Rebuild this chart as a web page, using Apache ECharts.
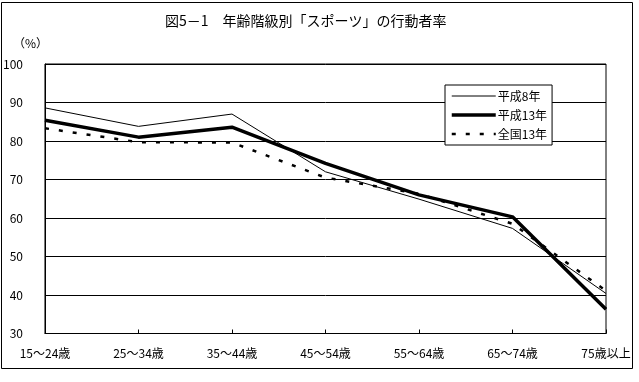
<!DOCTYPE html>
<html><head><meta charset="utf-8">
<script src="https://cdn.jsdelivr.net/npm/echarts@6/dist/echarts.min.js"></script>
<style>html,body{margin:0;padding:0;background:#fff}#c{width:639px;height:382px}</style>
</head><body><div id="c"></div>
<script>
const categories = ['15～24歳','25～34歳','35～44歳','45～54歳','55～64歳','65～74歳','75歳以上'];
const h8 = [88.6, 83.8, 87.0, 72.0, 64.9, 57.3, 40.4];
const h13 = [85.4, 81.0, 83.6, 74.2, 66.0, 60.3, 36.3];
const zenkoku13 = [83.3, 79.7, 79.6, 70.5, 66.3, 58.5, 41.1];
const seriesNames = ['平成8年','平成13年','全国13年'];
const yTicks = {min: 30, max: 100, interval: 10};

const FONT = '"Noto Sans CJK JP", sans-serif';
const styles = [
  {color: '#000', width: 1, type: 'solid'},
  {color: '#000', width: 3.5, type: 'solid'},
  {color: '#000', width: 2.5, type: [4, 10]}
];
const chart = echarts.init(document.getElementById('c'), null, {renderer: 'canvas'});
chart.setOption({
  animation: false,
  backgroundColor: '#fff',
  textStyle: {fontFamily: FONT, color: '#000'},
  title: {
    text: '図5－1　年齢階級別「スポーツ」の行動者率',
    left: 160, top: 9,
    textStyle: {fontFamily: FONT, fontSize: 14, fontWeight: 'normal', color: '#000'}
  },
  graphic: [
    {type: 'rect', shape: {x: 1.5, y: 2.5, width: 631, height: 366}, style: {fill: 'none', stroke: '#000', lineWidth: 1}, z: 100},
    {type: 'text', left: 13, top: 37, style: {text: '（%）', font: '12px ' + FONT, fill: '#000'}}
  ],
  grid: {left: 44, right: 33, top: 64, bottom: 48.5, show: true, borderColor: '#000', borderWidth: 1, backgroundColor: '#fff'},
  legend: {
    orient: 'vertical', left: 445, top: 85,
    backgroundColor: '#fff', borderColor: '#000', borderWidth: 1,
    padding: [4, 5, 4, 5], itemGap: 5, itemWidth: 44, itemHeight: 14,
    itemStyle: {opacity: 0},
    textStyle: {fontFamily: FONT, fontSize: 12, color: '#000', padding: [0, 0, 0, -3], lineHeight: 14},
    data: seriesNames.map((n, i) => ({name: n, lineStyle: styles[i]}))
  },
  xAxis: {
    type: 'category', data: categories, boundaryGap: false,
    axisLine: {lineStyle: {color: '#000', width: 1}},
    axisTick: {inside: true, length: 4, lineStyle: {color: '#000'}},
    axisLabel: {margin: 14, fontFamily: FONT, fontSize: 12, color: '#000', interval: 0},
    splitLine: {show: false}
  },
  yAxis: {
    type: 'value', min: yTicks.min, max: yTicks.max, interval: yTicks.interval,
    axisLine: {show: true, lineStyle: {color: '#000'}},
    axisTick: {show: false},
    axisLabel: {margin: 22, fontFamily: FONT, fontSize: 12, color: '#000'},
    splitLine: {show: true, lineStyle: {color: '#000', width: 1}}
  },
  series: [
    {name: seriesNames[0], type: 'line', data: h8, symbol: 'none', lineStyle: styles[0], itemStyle: {color: '#000'}, z: 3},
    {name: seriesNames[1], type: 'line', data: h13, symbol: 'none', lineStyle: styles[1], itemStyle: {color: '#000'}, z: 4},
    {name: seriesNames[2], type: 'line', data: zenkoku13, symbol: 'none', lineStyle: styles[2], itemStyle: {color: '#000'}, z: 2}
  ]
});
</script>
</body></html>
